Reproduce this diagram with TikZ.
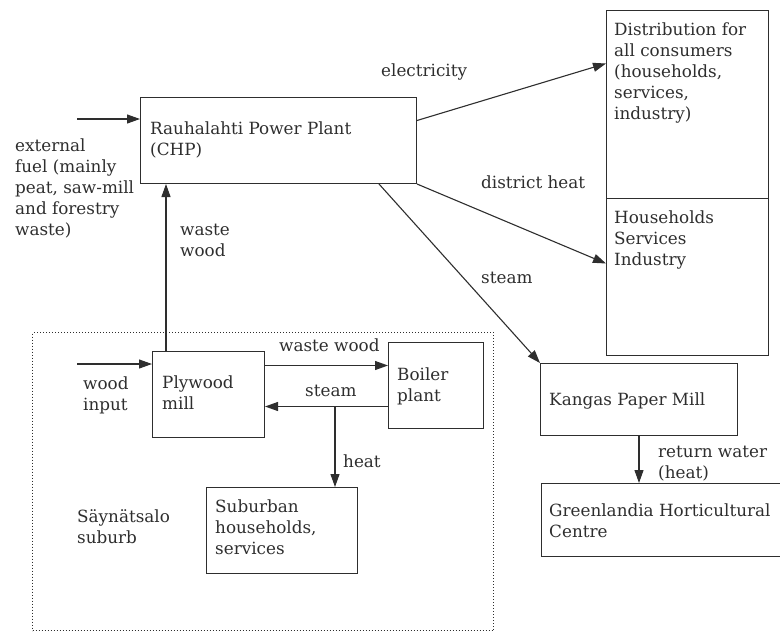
\documentclass[tikz,border=0pt]{standalone}
\usepackage{fontspec}
\setmainfont{DejaVu Serif}
\usetikzlibrary{arrows.meta,calc}
\definecolor{ink}{HTML}{2E2E2E}
\newcommand{\ml}[1]{\begin{tabular}[t]{@{}l@{}}#1\end{tabular}}
\begin{document}
\begin{tikzpicture}[x=1pt,y=-1pt,
  font=\fontsize{16.8}{21}\selectfont, text=ink,
  box/.style={draw=ink, line width=1pt, inner sep=0pt, anchor=north west},
  lbl/.style={inner sep=0pt, anchor=base west},
  arr/.style={draw=ink, line width=1.1pt, -{Triangle[length=13pt,width=9pt]}}]
\path[use as bounding box] (0,0) rectangle (780,633);
\clip (0,0) rectangle (780,633);
% boxes
\node[box, minimum width=276pt, minimum height=86pt] (chp) at (140,97) {};
\node[box, minimum width=162pt, minimum height=188pt] (dist) at (606,10) {};
\node[box, minimum width=162pt, minimum height=157pt] (hsi) at (606,198) {};
\node[box, minimum width=197pt, minimum height=72pt] (kangas) at (540,363) {};
\node[box, minimum width=245pt, minimum height=73pt] (green) at (541,483) {};
\node[box, dotted, minimum width=461pt, minimum height=298pt] (frame) at (32,332) {};
\node[box, minimum width=112pt, minimum height=86pt] (ply) at (152,351) {};
\node[box, minimum width=95pt, minimum height=86pt] (boiler) at (388,342) {};
\node[box, minimum width=151pt, minimum height=86pt] (sub) at (206,487) {};
% texts
\node[lbl] (tchp) at (150,134) {\ml{Rauhalahti Power Plant\\(CHP)}};
\node[lbl] (text) at (15,151) {\ml{external\\fuel (mainly\\peat, saw-mill\\and forestry\\waste)}};
\node[lbl] (tel) at (381,76) {electricity};
\node[lbl] (tdist) at (614,35) {\ml{Distribution for\\all consumers\\(households,\\services,\\industry)}};
\node[lbl] (thsi) at (614,223) {\ml{Households\\Services\\Industry}};
\node[lbl] (tdh) at (481,188) {district heat};
\node[lbl] (tst) at (481,283) {steam};
\node[lbl] (tww) at (180,235) {\ml{waste\\wood}};
\node[lbl] (tply) at (162,388) {\ml{Plywood\\mill}};
\node[lbl] (twi) at (83,389) {\ml{wood\\input}};
\node[lbl] (tww2) at (279,351) {waste wood};
\node[lbl] (tst2) at (305,396) {steam};
\node[lbl] (tboil) at (397,380) {\ml{Boiler\\plant}};
\node[lbl] (theat) at (343,467) {heat};
\node[lbl] (tsay) at (77,522) {\ml{Säynätsalo\\suburb}};
\node[lbl] (tsub) at (215,512) {\ml{Suburban\\households,\\services}};
\node[lbl] (tkang) at (549,405) {Kangas Paper Mill};
\node[lbl] (trw) at (658,457) {\ml{return water\\(heat)}};
\node[lbl] (tgreen) at (549,516) {\ml{Greenlandia Horticultural\\Centre}};
% connectors
\coordinate (ef) at (77,119);
\draw[arr] (ef) -- (ef -| chp.west);
\draw[arr] ([yshift=20pt]chp.east) -- ([yshift=41pt]dist.west);
\draw[arr] (chp.south east) -- ([yshift=13.5pt]hsi.west);
\draw[arr] ([xshift=-38pt]chp.south east) -- (kangas.north west);
\draw[arr] (kangas.south) -- (kangas.south |- green.north);
\draw[arr] ([xshift=14pt]ply.north west) -- ([xshift=14pt]ply.north west |- chp.south);
\coordinate (wi) at (77,364);
\draw[arr] (wi) -- (wi -| ply.west);
\draw[arr] ([yshift=29pt]ply.east) -- ([yshift=29pt]ply.east -| boiler.west);
\draw[arr] ([yshift=-21pt]boiler.west) -- ([yshift=-21pt]boiler.west -| ply.east);
\coordinate (hj) at (335,406);
\draw[arr] (hj) -- (hj |- sub.north);
\end{tikzpicture}
\end{document}
